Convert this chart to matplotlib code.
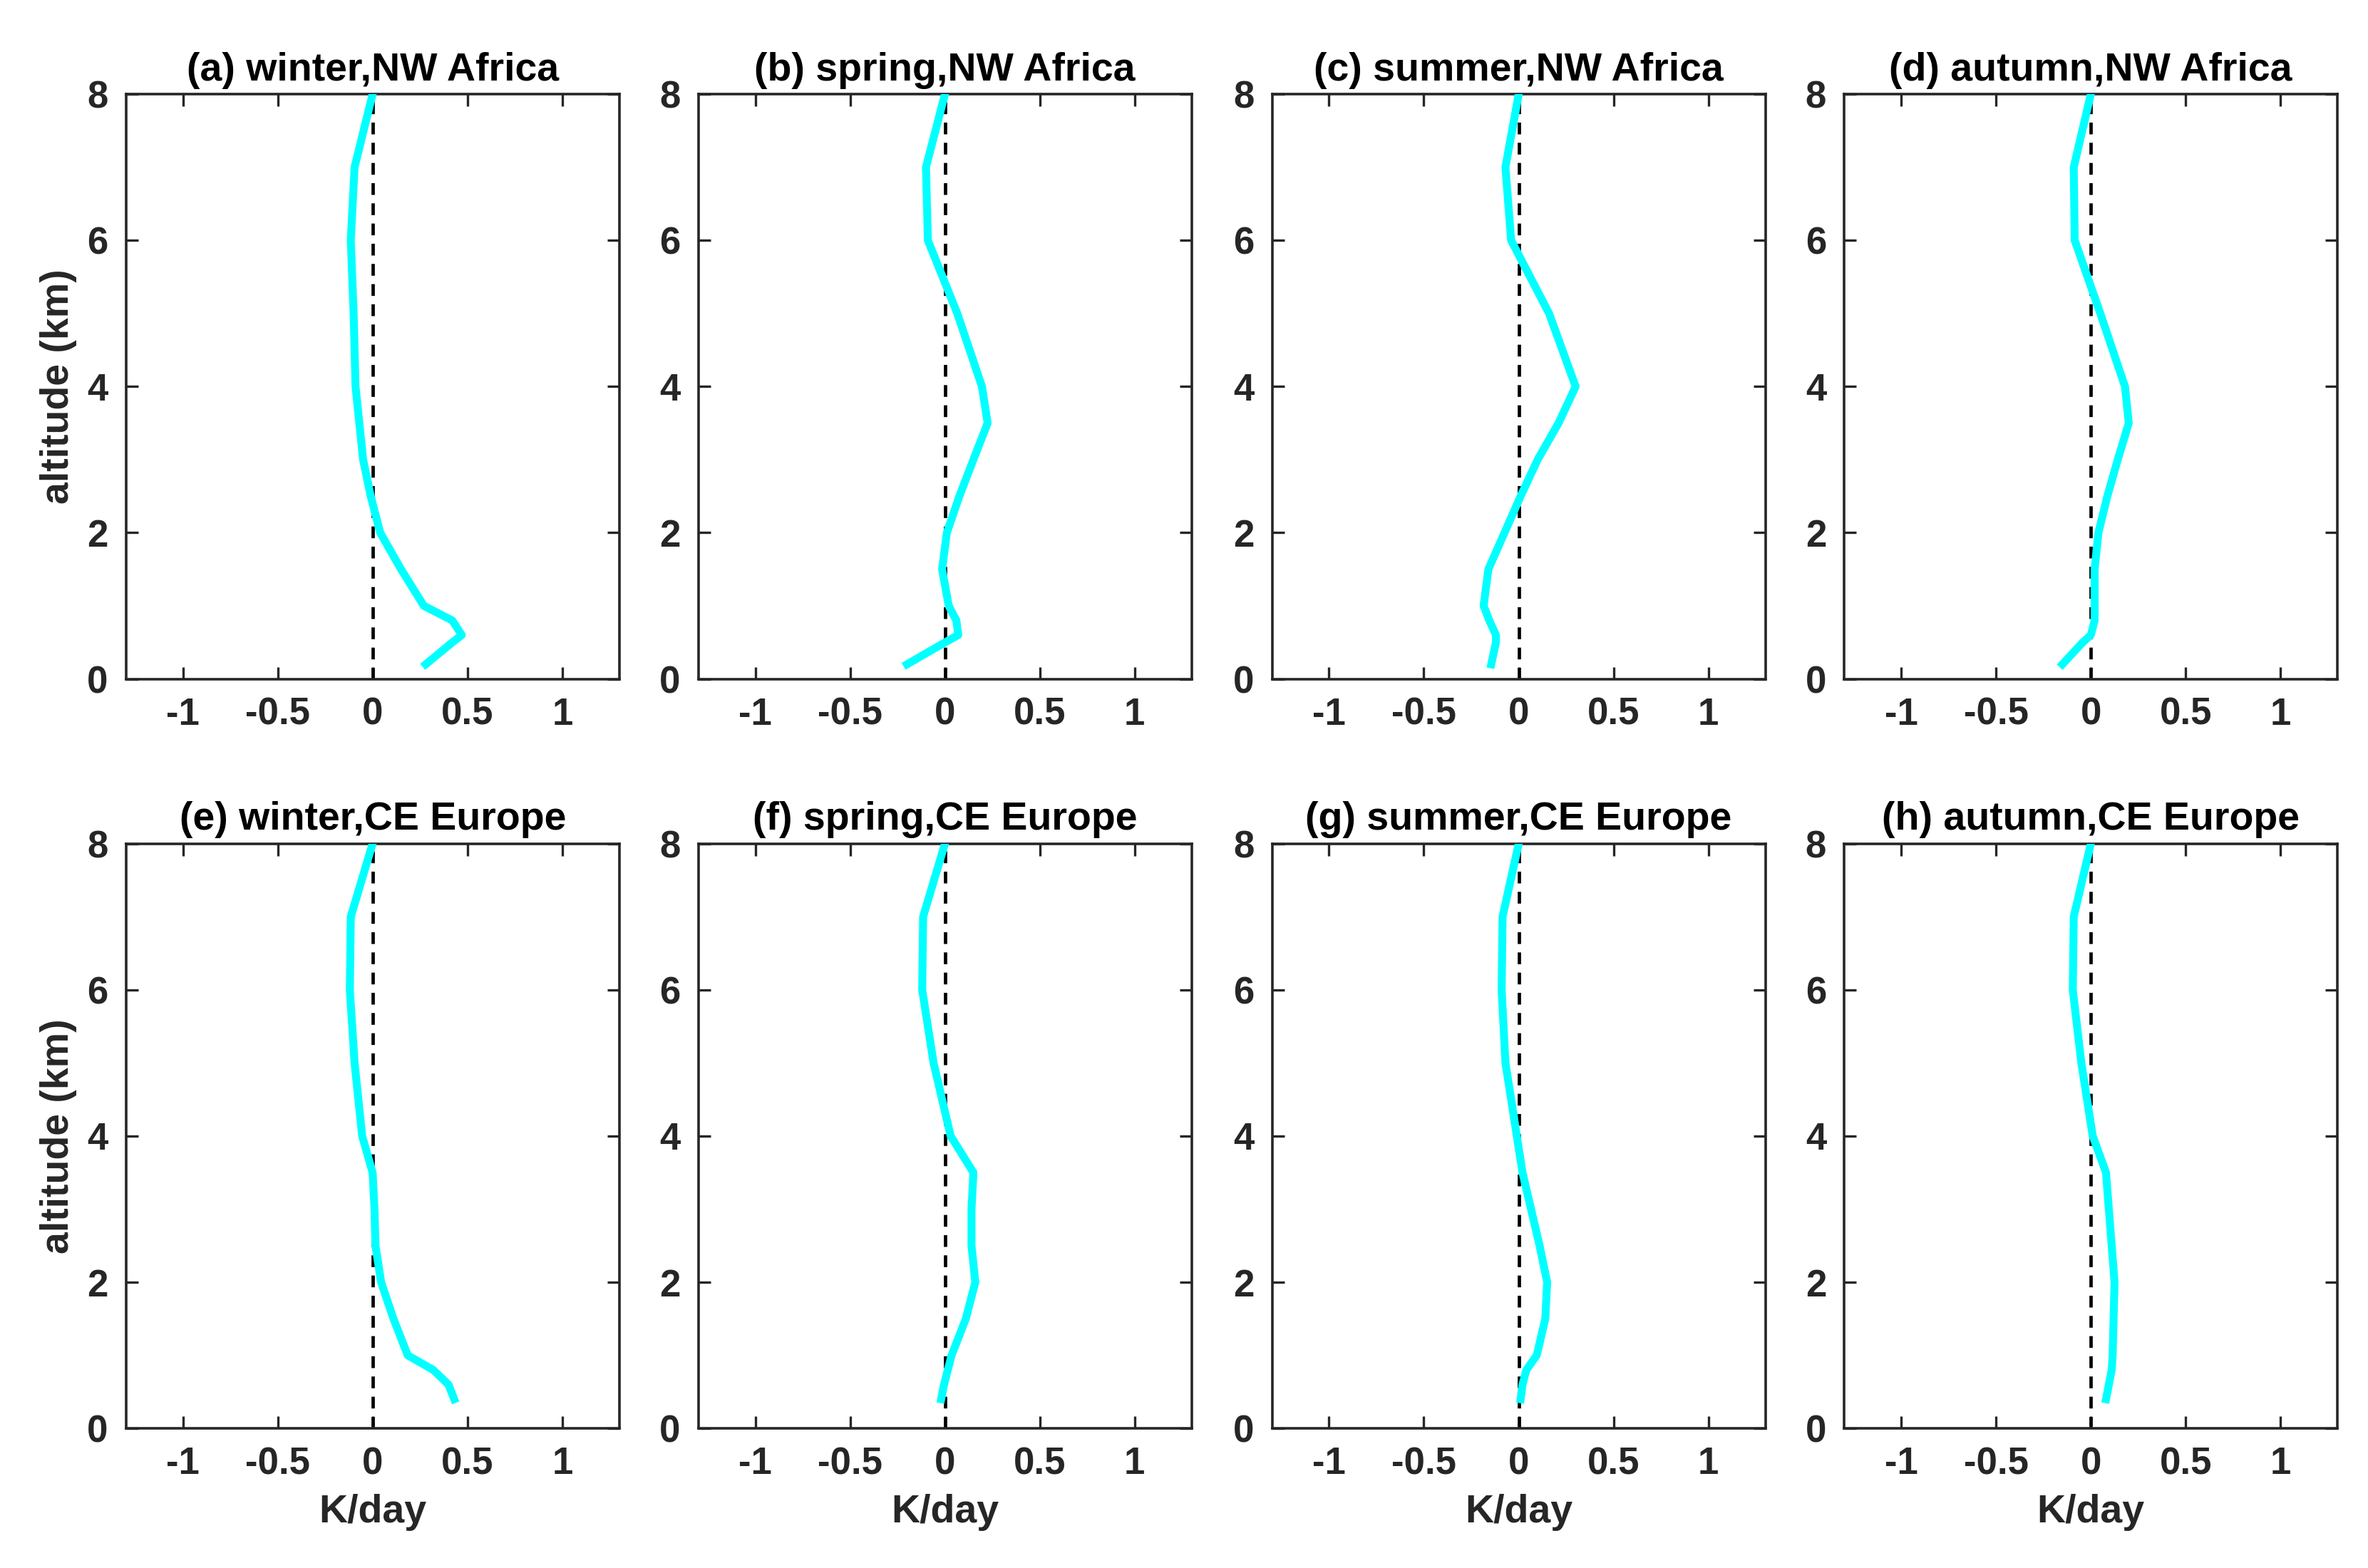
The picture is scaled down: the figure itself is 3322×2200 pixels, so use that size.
import numpy as np
import matplotlib
matplotlib.use("Agg")
import matplotlib.pyplot as plt

plt.rcParams["font.family"] = ["Liberation Sans", "DejaVu Sans"]
plt.rcParams["font.weight"] = "bold"
plt.rcParams["axes.unicode_minus"] = False

# altitude levels (km)
alt_top = [0.2, 0.5, 0.6, 0.8, 1.0, 1.5, 2.0, 2.5, 3.0, 3.5, 4.0, 5.0, 6.0, 7.0, 8.0]
alt_bot = [0.4, 0.6, 0.8, 1.0, 1.5, 2.0, 2.5, 3.0, 3.5, 4.0, 5.0, 6.0, 7.0, 8.0]

# heating rate (K/day), NW Africa
winter_nwa = [0.28, 0.42, 0.47, 0.42, 0.27, 0.15, 0.04, -0.01, -0.05, -0.07, -0.09, -0.10, -0.115, -0.095, 0.0]
spring_nwa = [-0.20, 0.0, 0.07, 0.06, 0.02, -0.015, 0.01, 0.076, 0.15, 0.225, 0.195, 0.065, -0.09, -0.10, 0.0]
summer_nwa = [-0.145, -0.12, -0.12, -0.155, -0.185, -0.16, -0.075, 0.01, 0.10, 0.21, 0.30, 0.16, -0.04, -0.07, 0.0]
autumn_nwa = [-0.15, -0.043, 0.0, 0.02, 0.02, 0.02, 0.04, 0.087, 0.142, 0.20, 0.18, 0.05, -0.085, -0.09, 0.0]

# heating rate (K/day), CE Europe
winter_cee = [0.43, 0.40, 0.32, 0.185, 0.11, 0.045, 0.015, 0.01, 0.0, -0.055, -0.095, -0.12, -0.115, 0.0]
spring_cee = [-0.02, -0.005, 0.015, 0.035, 0.11, 0.16, 0.14, 0.14, 0.15, 0.03, -0.06, -0.12, -0.115, 0.0]
summer_cee = [0.01, 0.02, 0.04, 0.095, 0.14, 0.15, 0.11, 0.065, 0.02, -0.01, -0.07, -0.09, -0.085, 0.0]
autumn_cee = [0.08, 0.095, 0.11, 0.115, 0.12, 0.125, 0.11, 0.095, 0.08, 0.01, -0.05, -0.095, -0.09, 0.0]

titles = ["(a) winter,NW Africa", "(b) spring,NW Africa", "(c) summer,NW Africa", "(d) autumn,NW Africa",
          "(e) winter,CE Europe", "(f) spring,CE Europe", "(g) summer,CE Europe", "(h) autumn,CE Europe"]
profiles = [winter_nwa, spring_nwa, summer_nwa, autumn_nwa,
            winter_cee, spring_cee, summer_cee, autumn_cee]

xticks = [-1, -0.5, 0, 0.5, 1]
xticklabels = ["-1", "-0.5", "0", "0.5", "1"]
yticks = [0, 2, 4, 6, 8]

fig = plt.figure(figsize=(16.61, 11), dpi=200)

lefts = [0.0532, 0.2949, 0.5372, 0.7788]
bottoms = [0.567, 0.089]
w, h = 0.2083, 0.373

for i in range(8):
    row, col = divmod(i, 4)
    ax = fig.add_axes([lefts[col], bottoms[row], w, h])
    alt = alt_top if row == 0 else alt_bot
    ax.plot([0, 0], [0, 8], color="black", ls=(0, (3.5, 2.5)), lw=1.7, zorder=2)
    ax.plot(profiles[i], alt, color="#00FFFF", lw=4.0, zorder=3)
    ax.set_xlim(-1.3, 1.3)
    ax.set_ylim(0, 8)
    ax.set_xticks(xticks)
    ax.set_xticklabels(xticklabels)
    ax.set_yticks(yticks)
    ax.tick_params(direction="in", top=True, right=True, length=6, width=1.2,
                   labelsize=19, colors="#262626", pad=9)
    for lab in ax.get_xticklabels() + ax.get_yticklabels():
        lab.set_fontweight("bold")
        lab.set_color("#262626")
    for sp in ax.spines.values():
        sp.set_linewidth(1.3)
        sp.set_color("#262626")
    ax.set_title(titles[i], fontsize=20, fontweight="bold", pad=7)
    if col == 0:
        ax.set_ylabel("altitude (km)", fontsize=20, fontweight="bold", color="#262626", labelpad=5)
    if row == 1:
        ax.set_xlabel("K/day", fontsize=20, fontweight="bold", color="#262626", labelpad=6)

fig.savefig("out.png", dpi=200, facecolor="white")
